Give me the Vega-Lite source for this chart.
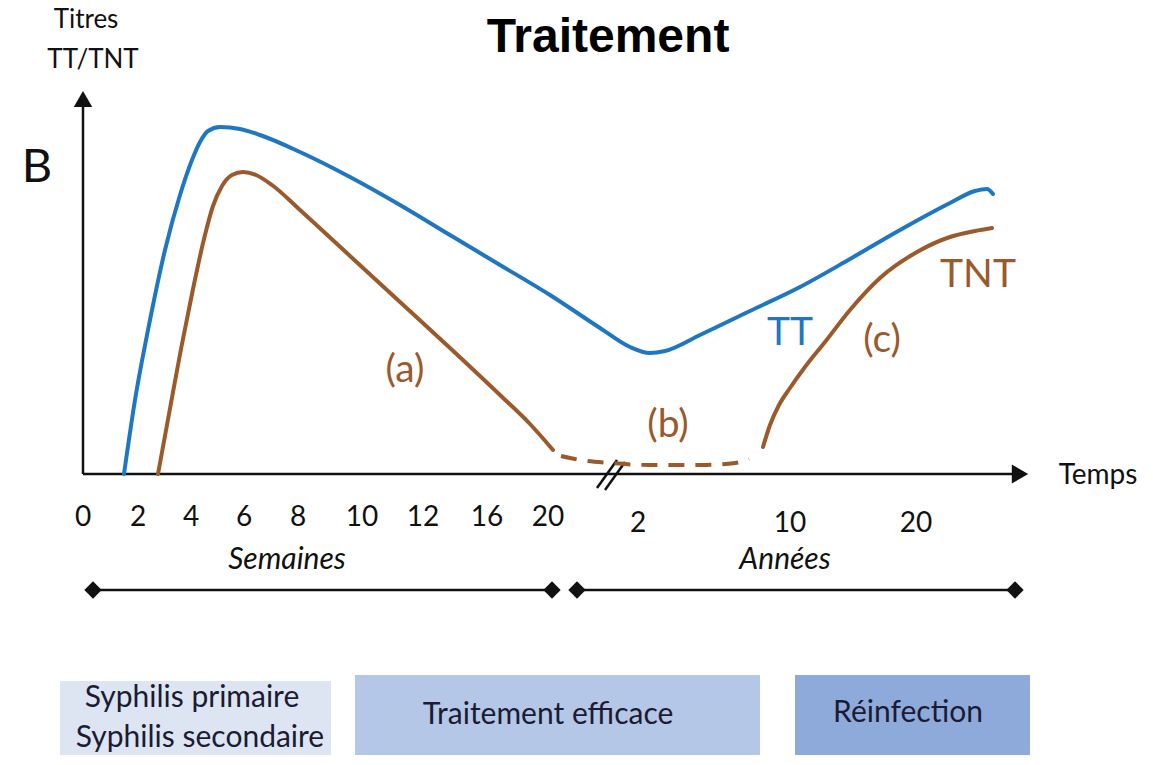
{
  "$schema": "https://vega.github.io/schema/vega-lite/v6.json",
  "width": 1153,
  "height": 765,
  "autosize": {"type": "fit", "contains": "padding"},
  "padding": 0,
  "background": "white",
  "config": {"view": {"stroke": null}, "text": {"font": "Lato"}},
  "encoding": {
    "x": {"field": "x", "type": "quantitative", "scale": {"domain": [-8.3, 107], "nice": false, "zero": false}, "axis": null},
    "y": {"field": "y", "type": "quantitative", "scale": {"domain": [-29.1, 47.4], "nice": false, "zero": false}, "axis": null}
  },
  "layer": [
    {
      "data": {"values": [
        {"phase": "Syphilis", "x": -2.3, "x2": 24.8, "y": -20.7, "y2": -28.1},
        {"phase": "Traitement", "x": 27.2, "x2": 67.7, "y": -20.1, "y2": -28.1},
        {"phase": "Réinfection", "x": 71.2, "x2": 94.7, "y": -20.1, "y2": -28.1}
      ]},
      "mark": {"type": "rect"},
      "encoding": {
        "x2": {"field": "x2"},
        "y2": {"field": "y2"},
        "color": {"field": "phase", "type": "nominal", "scale": {"domain": ["Syphilis", "Traitement", "Réinfection"], "range": ["#dde5f2", "#b4c7e7", "#8eaadb"]}, "legend": null}
      }
    },
    {
      "data": {"values": [
        {"x": 0, "x2": 93.2, "y": 0, "y2": 0},
        {"x": 0, "x2": 0, "y": 0, "y2": 36.8},
        {"x": 1.0, "x2": 46.9, "y": -11.6, "y2": -11.6},
        {"x": 49.4, "x2": 93.2, "y": -11.6, "y2": -11.6},
        {"x": 51.4, "x2": 53.4, "y": -1.4, "y2": 1.4},
        {"x": 52.2, "x2": 54.2, "y": -1.6, "y2": 1.2}
      ]},
      "mark": {"type": "rule", "color": "#111111", "strokeWidth": 2.5},
      "encoding": {"x2": {"field": "x2"}, "y2": {"field": "y2"}}
    },
    {
      "data": {"values": [{"x": 93.7, "y": 0}]},
      "mark": {"type": "point", "shape": "triangle-right", "filled": true, "color": "#111111", "size": 360, "opacity": 1}
    },
    {
      "data": {"values": [{"x": 0, "y": 37.5}]},
      "mark": {"type": "point", "shape": "triangle-up", "filled": true, "color": "#111111", "size": 340, "opacity": 1}
    },
    {
      "data": {"values": [{"x": 1.0, "y": -11.6}, {"x": 46.9, "y": -11.6}, {"x": 49.4, "y": -11.6}, {"x": 93.2, "y": -11.6}]},
      "mark": {"type": "point", "shape": "diamond", "filled": true, "color": "#111111", "size": 300, "opacity": 1}
    },
    {
      "data": {"values": [
        {"x": 4.1, "y": 0}, {"x": 5.2, "y": 7.4}, {"x": 6.7, "y": 15.4}, {"x": 8.2, "y": 22.4},
        {"x": 9.7, "y": 27.9}, {"x": 10.9, "y": 31.4}, {"x": 11.7, "y": 33.2}, {"x": 12.5, "y": 34.3},
        {"x": 13.7, "y": 34.7}, {"x": 15.7, "y": 34.5}, {"x": 17.7, "y": 33.9}, {"x": 21.7, "y": 32.2},
        {"x": 26.7, "y": 29.7}, {"x": 31.7, "y": 26.9}, {"x": 36.7, "y": 23.9}, {"x": 41.7, "y": 20.9},
        {"x": 46.7, "y": 17.9}, {"x": 51.7, "y": 14.6}, {"x": 54.7, "y": 12.7}, {"x": 56.7, "y": 12.1},
        {"x": 58.2, "y": 12.3}, {"x": 61.7, "y": 13.9}, {"x": 66.7, "y": 16.3}, {"x": 71.7, "y": 18.7},
        {"x": 76.7, "y": 21.5}, {"x": 81.7, "y": 24.4}, {"x": 86.7, "y": 27.1}, {"x": 89.2, "y": 28.3},
        {"x": 90.4, "y": 28.5}, {"x": 91.0, "y": 28.0}
      ]},
      "mark": {"type": "line", "interpolate": "monotone", "color": "#1f77c4", "strokeWidth": 4, "strokeCap": "round"}
    },
    {
      "data": {"values": [
        {"seg": "a", "x": 7.5, "y": 0}, {"seg": "a", "x": 8.6, "y": 6.0}, {"seg": "a", "x": 9.8, "y": 12.5},
        {"seg": "a", "x": 11.0, "y": 18.5}, {"seg": "a", "x": 12.1, "y": 23.5}, {"seg": "a", "x": 13.0, "y": 26.8},
        {"seg": "a", "x": 13.9, "y": 28.8}, {"seg": "a", "x": 14.9, "y": 29.9}, {"seg": "a", "x": 16.0, "y": 30.2},
        {"seg": "a", "x": 17.3, "y": 29.9}, {"seg": "a", "x": 18.9, "y": 28.9}, {"seg": "a", "x": 21.7, "y": 26.4},
        {"seg": "a", "x": 26.7, "y": 21.8}, {"seg": "a", "x": 31.7, "y": 17.2}, {"seg": "a", "x": 36.7, "y": 12.6},
        {"seg": "a", "x": 41.7, "y": 7.9}, {"seg": "a", "x": 44.7, "y": 5.0}, {"seg": "a", "x": 47.0, "y": 2.4},
        {"seg": "c", "x": 68.0, "y": 2.7}, {"seg": "c", "x": 68.7, "y": 4.9}, {"seg": "c", "x": 69.6, "y": 6.9},
        {"seg": "c", "x": 70.7, "y": 8.6}, {"seg": "c", "x": 72.2, "y": 10.7}, {"seg": "c", "x": 74.2, "y": 13.2},
        {"seg": "c", "x": 76.7, "y": 16.4}, {"seg": "c", "x": 79.7, "y": 19.6}, {"seg": "c", "x": 83.4, "y": 22.2},
        {"seg": "c", "x": 86.7, "y": 23.7}, {"seg": "c", "x": 89.2, "y": 24.3}, {"seg": "c", "x": 90.9, "y": 24.6}
      ]},
      "mark": {"type": "line", "interpolate": "monotone", "color": "#9a5a2b", "strokeWidth": 4, "strokeCap": "round"},
      "encoding": {"detail": {"field": "seg", "type": "nominal"}}
    },
    {
      "data": {"values": [
        {"x": 47.8, "y": 1.8}, {"x": 49.7, "y": 1.4}, {"x": 52.7, "y": 1.1}, {"x": 56.7, "y": 0.9},
        {"x": 61.7, "y": 0.9}, {"x": 65.2, "y": 1.1}, {"x": 66.6, "y": 1.5}
      ]},
      "mark": {"type": "line", "interpolate": "monotone", "color": "#9a5a2b", "strokeWidth": 4, "strokeDash": [16, 11]}
    },
    {
      "data": {"values": [
        {"x": 32.2, "y": 10.4, "text": "(a)"},
        {"x": 58.5, "y": 4.9, "text": "(b)"},
        {"x": 79.9, "y": 13.4, "text": "(c)"},
        {"x": 89.5, "y": 19.9, "text": "TNT"}
      ]},
      "mark": {"type": "text", "fontSize": 39, "color": "#9a5a2b", "align": "center", "baseline": "middle"},
      "encoding": {"text": {"field": "text"}}
    },
    {
      "data": {"values": [{"x": 70.7, "y": 14.1, "text": "TT"}]},
      "mark": {"type": "text", "fontSize": 39, "color": "#1f77c4", "align": "center", "baseline": "middle"},
      "encoding": {"text": {"field": "text"}}
    },
    {
      "data": {"values": [
        {"x": 0.0, "y": -4.4, "text": "0"}, {"x": 5.5, "y": -4.4, "text": "2"}, {"x": 10.8, "y": -4.4, "text": "4"},
        {"x": 16.1, "y": -4.4, "text": "6"}, {"x": 21.5, "y": -4.4, "text": "8"}, {"x": 27.9, "y": -4.4, "text": "10"},
        {"x": 34.0, "y": -4.4, "text": "12"}, {"x": 40.4, "y": -4.4, "text": "16"}, {"x": 46.5, "y": -4.4, "text": "20"},
        {"x": 55.5, "y": -5.0, "text": "2"}, {"x": 70.7, "y": -5.0, "text": "10"}, {"x": 83.3, "y": -5.0, "text": "20"},
        {"x": 101.5, "y": -0.2, "text": "Temps"}
      ]},
      "mark": {"type": "text", "fontSize": 28, "color": "#111111", "align": "center", "baseline": "middle"},
      "encoding": {"text": {"field": "text"}}
    },
    {
      "data": {"values": [
        {"x": 0.3, "y": 45.4, "text": "Titres"},
        {"x": 1.0, "y": 41.4, "text": "TT/TNT"}
      ]},
      "mark": {"type": "text", "fontSize": 26, "color": "#111111", "align": "center", "baseline": "middle"},
      "encoding": {"text": {"field": "text"}}
    },
    {
      "data": {"values": [
        {"x": 20.4, "y": -8.6, "text": "Semaines"},
        {"x": 70.2, "y": -8.6, "text": "Années"}
      ]},
      "mark": {"type": "text", "fontSize": 30, "fontStyle": "italic", "color": "#111111", "align": "center", "baseline": "middle"},
      "encoding": {"text": {"field": "text"}}
    },
    {
      "data": {"values": [{"x": -4.6, "y": 30.6, "text": "B"}]},
      "mark": {"type": "text", "fontSize": 47, "color": "#111111", "align": "center", "baseline": "middle"},
      "encoding": {"text": {"field": "text"}}
    },
    {
      "data": {"values": [{"x": 52.5, "y": 43.6, "text": "Traitement"}]},
      "mark": {"type": "text", "font": "Liberation Sans", "fontSize": 48, "fontWeight": "bold", "color": "#000000", "align": "center", "baseline": "middle"},
      "encoding": {"text": {"field": "text"}}
    },
    {
      "data": {"values": [
        {"x": 10.9, "y": -22.4, "text": "Syphilis primaire"},
        {"x": 11.7, "y": -26.4, "text": "Syphilis secondaire"},
        {"x": 46.5, "y": -24.1, "text": "Traitement efficace"},
        {"x": 82.5, "y": -23.9, "text": "Réinfection"}
      ]},
      "mark": {"type": "text", "fontSize": 30, "color": "#1b1b33", "align": "center", "baseline": "middle"},
      "encoding": {"text": {"field": "text"}}
    }
  ]
}
